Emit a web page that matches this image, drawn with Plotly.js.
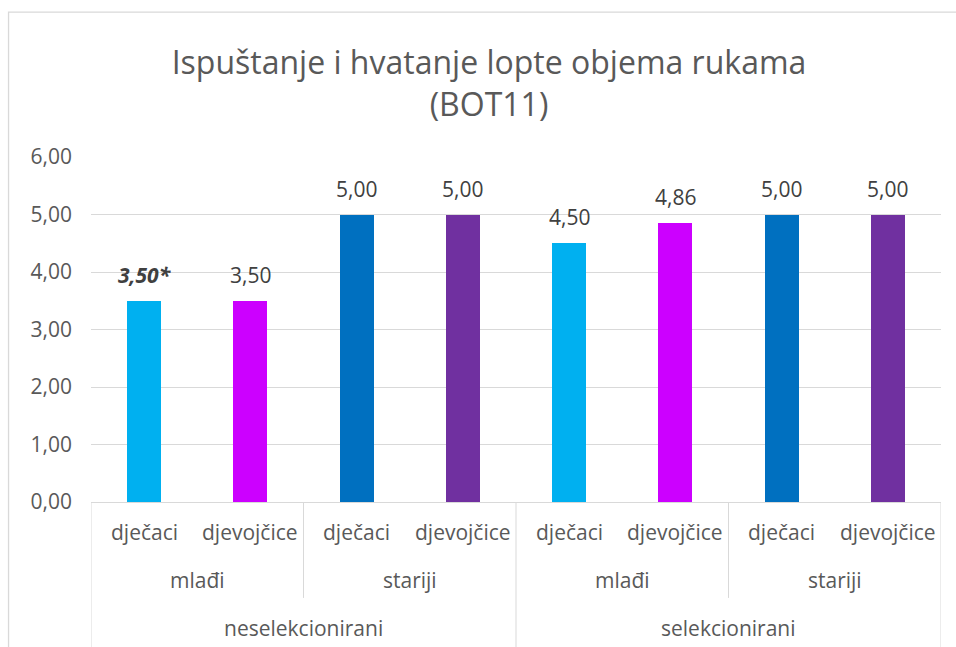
<!DOCTYPE html>
<html>
<head>
<meta charset="utf-8">
<script src="https://cdn.plot.ly/plotly-3.0.1.min.js"></script>
<style>html,body{margin:0;padding:0;background:#fff;}#chart{width:956px;height:647px;}</style>
</head>
<body>
<div id="chart"></div>
<script>
// Data
const sexLabels = ['dječaci','djevojčice','dječaci','djevojčice','dječaci','djevojčice','dječaci','djevojčice'];
const ageLabels = ['mlađi','stariji','mlađi','stariji'];
const selLabels = ['neselekcionirani','selekcionirani'];
const values = [3.50, 3.50, 5.00, 5.00, 4.50, 4.86, 5.00, 5.00];
const valueNotes = ['*', '', '', '', '', '', '', ''];
const barColors = ['#00B0F0','#CC00FF','#0070C0','#7030A0','#00B0F0','#CC00FF','#0070C0','#7030A0'];
const yTicks = [0,1,2,3,4,5,6];
const titleText = 'Ispuštanje i hvatanje lopte objema rukama<br>(BOT11)';

const FONT = 'Open Sans, Liberation Sans, sans-serif';
const xs = values.map((v,i)=>i);
const fmt = v => v.toFixed(2).replace('.', ',');

const annotations = [];
// data labels
values.forEach((v,i)=>{
  let t = fmt(v) + valueNotes[i];
  if (valueNotes[i]) t = '<b><i>' + t + '</i></b>';
  annotations.push({x:xs[i], y:v, xref:'x', yref:'y', text:t, showarrow:false,
    yanchor:'middle', yshift:26, font:{family:FONT, size:21, color:'#404040'}});
});
// level 1 labels
sexLabels.forEach((s,i)=>{
  annotations.push({x:xs[i], y:-0.087, xref:'x', yref:'paper', text:s, showarrow:false,
    yanchor:'middle', font:{family:FONT, size:21, color:'#595959'}});
});
ageLabels.forEach((s,k)=>{
  annotations.push({x:2*k+0.5, y:-0.226, xref:'x', yref:'paper', text:s, showarrow:false,
    yanchor:'middle', font:{family:FONT, size:21, color:'#595959'}});
});
selLabels.forEach((s,k)=>{
  annotations.push({x:4*k+1.5, y:-0.365, xref:'x', yref:'paper', text:s, showarrow:false,
    yanchor:'middle', font:{family:FONT, size:21, color:'#595959'}});
});

const lineStyle = {color:'#d9d9d9', width:1};
const shapes = [];
// level separators
for (let k=0;k<=4;k++){
  const xv = 2*k - 0.5;
  const major = (k % 2 === 0);
  shapes.push({type:'line', xref:'x', yref:'paper', x0:xv, x1:xv, y0:0, y1: major ? -0.45 : -0.278, line:lineStyle});
}
// outer chart border
shapes.push({type:'rect', xref:'paper', yref:'paper', x0:-0.097, x1:1.2, y0:-0.6, y1:1.42, line:{color:'#d9d9d9', width:1.3}, layer:'below'});

const trace = {
  type:'bar', x:xs, y:values, width:0.32,
  marker:{color:barColors}, hoverinfo:'none', showlegend:false
};

const layout = {
  width:956, height:647,
  margin:{l:91, r:15, t:157, b:145},
  paper_bgcolor:'#ffffff', plot_bgcolor:'#ffffff',
  separators:',.',
  title:{text:titleText, x:0.5115, xref:'container', y:1-74/647, yref:'container', yanchor:'middle',
    font:{family:FONT, size:32, color:'#595959'}},
  xaxis:{range:[-0.5,7.5], showticklabels:false, showgrid:false, zeroline:false, ticks:'', fixedrange:true},
  yaxis:{range:[0,6], tickvals:yTicks, ticktext:yTicks.map(fmt), showgrid:true, gridcolor:'#d9d9d9', gridwidth:1,
    zeroline:true, zerolinecolor:'#d9d9d9', zerolinewidth:1, ticks:'', ticklabelstandoff:18,
    tickfont:{family:FONT, size:21, color:'#595959'}, fixedrange:true},
  annotations:annotations,
  shapes:shapes,
  bargap:0
};

Plotly.newPlot('chart', [trace], layout, {displayModeBar:false, staticPlot:true});
</script>
</body>
</html>
